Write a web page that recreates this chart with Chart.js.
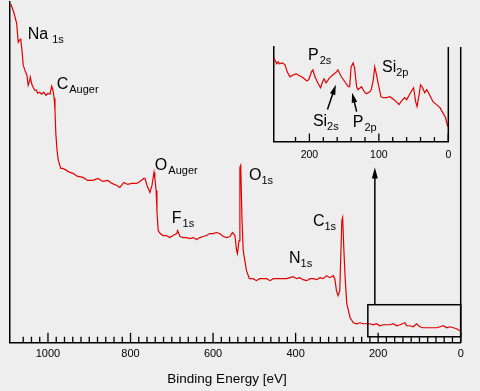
<!DOCTYPE html>
<html>
<head>
<meta charset="utf-8">
<script src="https://cdn.jsdelivr.net/npm/chart.js@4/dist/chart.umd.min.js"></script>
<style>
  html, body { margin: 0; padding: 0; background: #eeeeee; }
  #wrap { position: relative; width: 480px; height: 391px; overflow: hidden; }
  #survey { position: absolute; left: 0; top: 0; }
  #detail { position: absolute; left: 260px; top: 40px; }
</style>
</head>
<body>
<div id="wrap">
  <canvas id="survey" width="480" height="391"></canvas>
  <canvas id="detail" width="200" height="130"></canvas>
</div>
<script>
// survey spectrum, binding energy (eV) and intensity (arb. units)
const surveyEnergy = [1090, 1083, 1076, 1072, 1069, 1066, 1063, 1060, 1056, 1051, 1048, 1044, 1043, 1039, 1036, 1032, 1028, 1025, 1020, 1015,
  1010, 1005, 1000, 995, 991, 988, 985, 983, 981, 978, 975, 969, 964, 955, 947, 939, 928, 915, 904, 891,
  879, 867, 855, 845, 833, 826, 816, 807, 797, 785, 777, 768, 765, 760, 753, 748, 743, 741, 738, 736,
  733, 728, 721, 713, 705, 697, 688, 686, 680, 672, 664, 656, 648, 640, 632, 624, 616, 608, 600, 592,
  584, 575, 567, 559, 553, 547, 543, 541, 537, 535, 533, 530, 527, 523, 519, 512, 503, 495, 487, 470,
  462, 454, 438, 422, 406, 398, 390, 382, 373, 365, 357, 349, 341, 333, 325, 317, 309, 305, 301, 297,
  293, 288, 286, 283, 280, 276, 272, 268, 260, 252, 244, 236, 228, 220, 212, 204, 196, 188, 171, 163,
  155, 147, 135, 131, 123, 115, 107, 99, 91, 83, 74, 66, 58, 50, 42, 34, 26, 18, 10, 2]
const surveyCounts = [338, 330, 319, 300, 302, 303, 292, 277, 272, 267, 257, 262, 265, 258, 255, 252, 252, 249, 250, 248,
  250, 247, 249, 248, 256, 252, 244, 232, 209, 192, 182, 174, 174, 172, 170, 169, 166, 165, 162, 162,
  164, 161, 162, 159, 157, 155, 160, 158, 159, 159, 161, 164, 164, 157, 150, 157, 170, 164, 152, 132,
  112, 109, 107, 107, 105, 107, 109, 112, 106, 105, 105, 104, 105, 103, 105, 106, 107, 109, 109, 110,
  109, 106, 105, 106, 110, 107, 92, 89, 102, 175, 177, 125, 92, 82, 72, 64, 64, 62, 64, 64,
  62, 64, 64, 64, 66, 64, 65, 63, 62, 64, 64, 63, 65, 64, 67, 65, 67, 64, 52, 47,
  52, 122, 125, 92, 65, 39, 32, 25, 20, 19, 20, 19, 19, 19, 18, 19, 17, 18, 18, 19,
  17, 18, 20, 17, 17, 16, 19, 16, 15, 15, 15, 15, 15, 16, 17, 15, 16, 15, 14, 12]

// low energy region, shown in the inset
const detailEnergy = [251, 247, 245, 243, 239, 235, 232, 228, 223, 219, 214, 209, 204, 201, 197, 195, 192, 188, 184, 181,
  179, 176, 171, 166, 161, 159, 154, 149, 144, 142, 140, 137, 135, 132, 130, 125, 121, 118, 113, 111,
  108, 106, 104, 100, 97, 94, 89, 84, 80, 75, 71, 68, 63, 60, 56, 52, 50, 47, 45, 42,
  40, 37, 34, 31, 27, 22, 17, 12, 8, 4, 1]
const detailCounts = [84, 78, 80, 78, 79, 77, 70, 65, 67, 68, 66, 64, 61, 62, 70, 72, 65, 59, 54, 60,
  63, 59, 64, 67, 70, 72, 65, 60, 55, 55, 75, 79, 74, 55, 52, 55, 50, 48, 50, 52,
  62, 75, 69, 55, 45, 44, 44, 45, 43, 40, 37, 40, 44, 42, 47, 52, 54, 40, 35, 47,
  57, 54, 49, 52, 47, 40, 37, 34, 29, 24, 15]

const surveyTickLabels = [1000, 800, 600, 400, 200, 0]
const detailTickLabels = [200, 100, 0]

// peak labels: element, orbital, anchor (eV, intensity)
const surveyPeaks = [
  { el: "Na", sub: "1s", e: 1049, i: 303, gap: 4 },
  { el: "C", sub: "Auger", e: 979, i: 253, gap: 1 },
  { el: "O", sub: "Auger", e: 741, i: 172, gap: 1 },
  { el: "F", sub: "1s", e: 700, i: 120, gap: 1 },
  { el: "O", sub: "1s", e: 513, i: 162, gap: 0 },
  { el: "N", sub: "1s", e: 416, i: 80, gap: 0 },
  { el: "C", sub: "1s", e: 358, i: 117, gap: 0 }
]
const detailPeaks = [
  { el: "P", sub: "2s", e: 202, i: 82, gap: 1 },
  { el: "Si", sub: "2p", e: 95.5, i: 70, gap: 0 },
  { el: "Si", sub: "2s", e: 195, i: 16, gap: 0 },
  { el: "P", sub: "2p", e: 137.5, i: 14, gap: 1 }
]
// arrows in the inset: from (e0, i0) to the tip (e1, i1)
const detailArrows = [
  { e0: 174, i0: 32, e1: 162, i1: 57 },
  { e0: 132, i0: 30, e1: 138.5, i1: 49 }
]

const FONT = "'Liberation Sans', Arial, sans-serif"
const LINE_RED = "#e30000"

function toPoints(xs, ys) {
  return xs.map((x, k) => ({ x: x, y: ys[k] }))
}

function drawPeakLabel(ctx, x, y, p) {
  ctx.fillStyle = "#000"
  ctx.textAlign = "left"
  ctx.textBaseline = "alphabetic"
  ctx.font = "16px " + FONT
  ctx.fillText(p.el, x, y)
  const w = ctx.measureText(p.el).width
  ctx.font = "11px " + FONT
  ctx.fillText(p.sub, x + w + p.gap, y + 4)
}

function drawArrow(ctx, x0, y0, x1, y1, head, half) {
  const a = Math.atan2(y1 - y0, x1 - x0)
  ctx.beginPath()
  ctx.moveTo(x0, y0)
  ctx.lineTo(x1 - Math.cos(a) * head * 0.8, y1 - Math.sin(a) * head * 0.8)
  ctx.stroke()
  ctx.beginPath()
  ctx.moveTo(x1, y1)
  ctx.lineTo(x1 - Math.cos(a) * head - Math.sin(a) * half, y1 - Math.sin(a) * head + Math.cos(a) * half)
  ctx.lineTo(x1 - Math.cos(a) * head + Math.sin(a) * half, y1 - Math.sin(a) * head - Math.cos(a) * half)
  ctx.closePath()
  ctx.fill()
}

function drawTickMarks(ctx, xScale, bottom, majorStep, majorLen, minorLen) {
  ctx.beginPath()
  xScale.ticks.forEach(t => {
    const px = xScale.getPixelForValue(t.value)
    const len = t.value % majorStep === 0 ? majorLen : minorLen
    ctx.moveTo(px, bottom)
    ctx.lineTo(px, bottom - len)
  })
  ctx.stroke()
}

const surveyDecor = {
  id: "surveyDecor",
  afterDraw(chart) {
    const { ctx, chartArea } = chart
    const x = chart.scales.x
    const y = chart.scales.y
    ctx.save()
    ctx.strokeStyle = "#000"
    ctx.fillStyle = "#000"
    ctx.lineWidth = 1.3
    drawTickMarks(ctx, x, chartArea.bottom, 200, 10, 6)

    // box round the region blown up in the inset
    ctx.lineWidth = 1.5
    const bx0 = x.getPixelForValue(225)
    const bx1 = x.getPixelForValue(0)
    const by0 = y.getPixelForValue(38)
    const by1 = y.getPixelForValue(6)
    ctx.strokeRect(bx0, by0, bx1 - bx0, by1 - by0)
    ctx.beginPath()
    ctx.moveTo(bx1, y.getPixelForValue(295))
    ctx.lineTo(bx1, y.getPixelForValue(0))
    ctx.stroke()
    const ax = x.getPixelForValue(208)
    drawArrow(ctx, ax, by0, ax, y.getPixelForValue(175), 11, 3)

    surveyPeaks.forEach(p => drawPeakLabel(ctx, x.getPixelForValue(p.e), y.getPixelForValue(p.i), p))

    ctx.font = "13.5px " + FONT
    ctx.textAlign = "center"
    ctx.fillText("Binding Energy [eV]", 227, 383)
    ctx.restore()
  }
}

const detailDecor = {
  id: "detailDecor",
  afterDraw(chart) {
    const { ctx, chartArea } = chart
    const x = chart.scales.x
    const y = chart.scales.y
    ctx.save()
    ctx.strokeStyle = "#000"
    ctx.fillStyle = "#000"
    ctx.lineWidth = 1.3
    drawTickMarks(ctx, x, chartArea.bottom, 100, 8, 4.5)
    ctx.lineWidth = 1.5
    ctx.beginPath()
    ctx.moveTo(chartArea.right, chartArea.top)
    ctx.lineTo(chartArea.right, chartArea.bottom)
    ctx.stroke()
    detailArrows.forEach(a => drawArrow(ctx,
      x.getPixelForValue(a.e0), y.getPixelForValue(a.i0),
      x.getPixelForValue(a.e1), y.getPixelForValue(a.i1), 10, 2.8))
    detailPeaks.forEach(p => drawPeakLabel(ctx, x.getPixelForValue(p.e), y.getPixelForValue(p.i), p))
    ctx.restore()
  }
}

function lineSet(points) {
  return {
    data: points,
    showLine: true,
    borderColor: LINE_RED,
    borderWidth: 1.2,
    pointRadius: 0,
    tension: 0
  }
}

function axisOptions(max, stepLabels, labelSize, pad) {
  return {
    type: "linear",
    reverse: true,
    min: 0,
    max: max,
    afterBuildTicks: s => { s.ticks = s.ticks.filter(t => t.value % 20 === 0) },
    ticks: {
      stepSize: 20,
      autoSkip: false,
      maxRotation: 0,
      padding: pad,
      color: "#000",
      font: { family: FONT, size: labelSize },
      callback: v => stepLabels.includes(v) ? String(v) : ""
    },
    grid: { display: false, drawTicks: false },
    border: { display: true, color: "#000", width: 1.5 }
  }
}

function valueAxis(max) {
  return {
    min: 0,
    max: max,
    ticks: { display: false },
    grid: { display: false, drawTicks: false },
    border: { display: true, color: "#000", width: 1.5 }
  }
}

new Chart(document.getElementById("survey"), {
  type: "scatter",
  data: { datasets: [lineSet(toPoints(surveyEnergy, surveyCounts))] },
  options: {
    responsive: false,
    animation: false,
    devicePixelRatio: 1,
    layout: { padding: { left: 10, right: 19.3, top: 2, bottom: 25 } },
    plugins: { legend: { display: false }, tooltip: { enabled: false } },
    scales: {
      x: axisOptions(1092, surveyTickLabels, 11, 5),
      y: valueAxis(340)
    }
  },
  plugins: [surveyDecor]
})

new Chart(document.getElementById("detail"), {
  type: "scatter",
  data: { datasets: [lineSet(toPoints(detailEnergy, detailCounts))] },
  options: {
    responsive: false,
    animation: false,
    devicePixelRatio: 1,
    layout: { padding: { left: 13.3, right: 11.7, top: 7, bottom: 2 } },
    plugins: { legend: { display: false }, tooltip: { enabled: false } },
    scales: {
      x: axisOptions(252, detailTickLabels, 10.5, 7),
      y: valueAxis(95)
    }
  },
  plugins: [detailDecor]
})
</script>
</body>
</html>
